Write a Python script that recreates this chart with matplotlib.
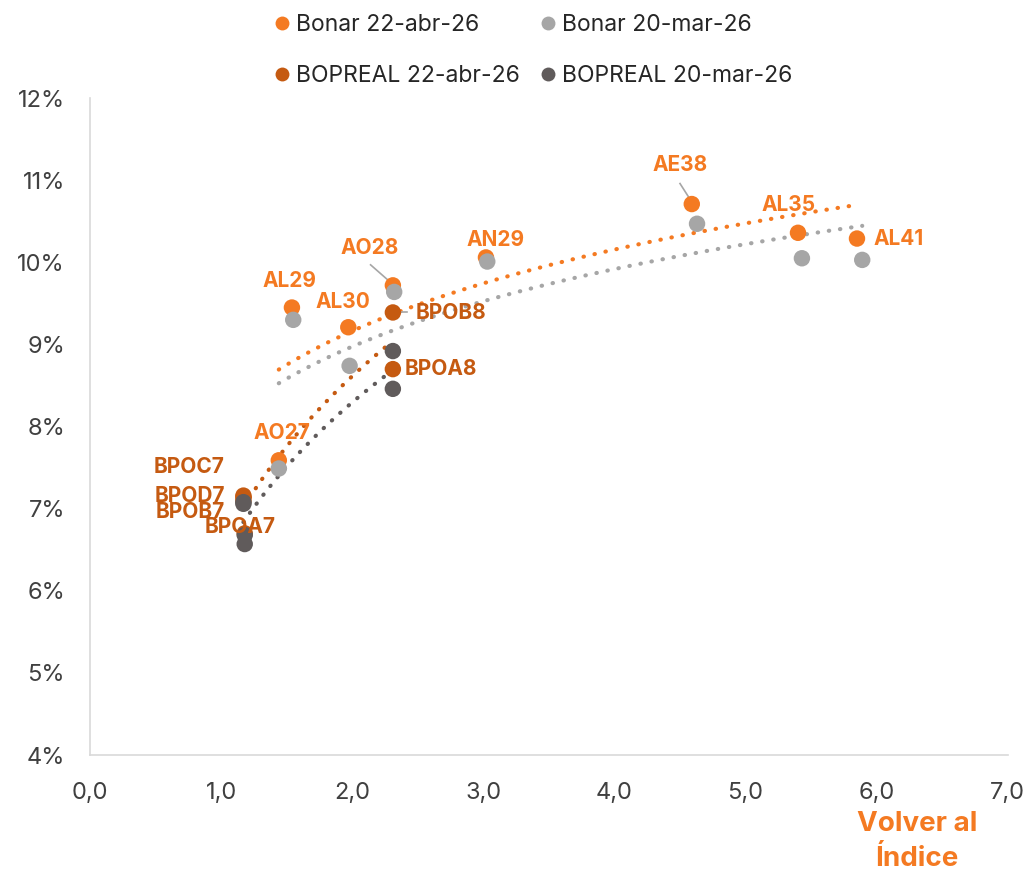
import numpy as np
import matplotlib.pyplot as plt
from matplotlib.lines import Line2D

plt.rcParams["font.family"] = ["Inter", "DejaVu Sans"]

# ── Data: duration ("Volver al Índice" axis) vs yield (%) ──────────────────
bonar_names = ["AL29", "AL30", "AO28", "AN29", "AE38", "AL35", "AL41", "AO27"]
bonar_x_abr = [1.54, 1.97, 2.31, 3.02, 4.59, 5.40, 5.85, 1.44]
bonar_y_abr = [9.45, 9.21, 9.72, 10.06, 10.71, 10.36, 10.29, 7.59]
bonar_x_mar = [1.55, 1.98, 2.32, 3.03, 4.63, 5.43, 5.89, 1.44]
bonar_y_mar = [9.30, 8.74, 9.64, 10.01, 10.47, 10.05, 10.03, 7.49]

bop_names = ["BPOC7", "BPOD7", "BPOB7", "BPOA7", "BPOB8", "BPOA8"]
bop_x_abr = [1.17, 1.17, 1.17, 1.18, 2.31, 2.31]
bop_y_abr = [7.16, 7.14, 7.10, 6.70, 9.39, 8.70]
bop_x_mar = [1.17, 1.17, 1.18, 1.18, 2.31, 2.31]
bop_y_mar = [7.08, 7.06, 6.68, 6.57, 8.92, 8.46]

ORANGE = "#F47A22"
GREY = "#A6A6A6"
DARK_ORANGE = "#C55A11"
DARK_GREY = "#605B5B"

fig = plt.figure(figsize=(10.3, 8.76), dpi=100)
ax = fig.add_axes([0.0874, 0.138, 0.891, 0.750])

series = [
    (bonar_x_abr, bonar_y_abr, ORANGE, "Bonar 22-abr-26"),
    (bonar_x_mar, bonar_y_mar, GREY, "Bonar 20-mar-26"),
    (bop_x_abr, bop_y_abr, DARK_ORANGE, "BOPREAL 22-abr-26"),
    (bop_x_mar, bop_y_mar, DARK_GREY, "BOPREAL 20-mar-26"),
]

# logarithmic trendlines, dotted
for xs, ys, col, _ in series:
    xs = np.array(xs); ys = np.array(ys)
    b, a = np.polyfit(np.log(xs), ys, 1)
    xx = np.linspace(xs.min(), xs.max(), 200)
    ax.plot(xx, a + b * np.log(xx), color=col, linestyle=(0, (0.1, 2.6)),
            linewidth=3, dash_capstyle="round", zorder=2)

for xs, ys, col, lab in series:
    ax.scatter(xs, ys, s=140, color=col, edgecolors="none", zorder=3, label=lab)

# data labels (offsets in pixels, converted to points)
PX = 0.72
lbl = dict(fontsize=15, fontweight="bold", ha="center", va="center", zorder=4)
bonar_off = {
    "AL29": (-2, 27), "AL30": (-5, 25), "AO28": (-23, 37), "AN29": (10, 17),
    "AE38": (-12, 39), "AL35": (-9, 28), "AL41": (42, 0), "AO27": (3, 27),
}
for n, x, y in zip(bonar_names, bonar_x_abr, bonar_y_abr):
    dx, dy = bonar_off[n]
    ax.annotate(n, (x, y), xytext=(dx * PX, dy * PX), textcoords="offset points",
                color=ORANGE, **lbl)

bop_off = {
    "BPOC7": (-54, 29), "BPOD7": (-54, 1), "BPOB7": (-53, -11), "BPOA7": (-5, 6),
    "BPOB8": (58, -1), "BPOA8": (48, 0),
}
for n, x, y in zip(bop_names, bop_x_abr, bop_y_abr):
    dx, dy = bop_off[n]
    ax.annotate(n, (x, y), xytext=(dx * PX, dy * PX), textcoords="offset points",
                color=DARK_ORANGE, **lbl)

# leader lines
lead = dict(color="#A6A6A6", linewidth=1.2, zorder=2.5)
ax.plot([2.14, 2.29], [9.97, 9.76], **lead)
ax.plot([4.50, 4.58], [10.96, 10.76], **lead)
ax.plot([2.34, 2.42], [9.39, 9.39], **lead)

ax.set_xlim(0, 7)
ax.set_ylim(4, 12)
ax.set_xticks(np.arange(0, 8, 1))
ax.set_xticklabels([f"{v:.1f}".replace(".", ",") for v in np.arange(0, 8, 1)])
ax.set_yticks(np.arange(4, 13, 1))
ax.set_yticklabels([f"{v}%" for v in range(4, 13)])
ax.tick_params(length=0, labelsize=17, labelcolor="#404040")
ax.tick_params(axis="x", pad=19)
ax.tick_params(axis="y", pad=18)
for s in ["top", "right"]:
    ax.spines[s].set_visible(False)
for s in ["left", "bottom"]:
    ax.spines[s].set_color("#D9D9D9")
    ax.spines[s].set_linewidth(1.2)

fig.text(0.890, 0.039, "Volver al\nÍndice", color=ORANGE, fontsize=20,
         fontweight="bold", ha="center", va="center", linespacing=1.45)

# legend: Bonar on the first row, BOPREAL on the second
order = [0, 2, 1, 3]
handles = [Line2D([], [], marker="o", linestyle="none", markersize=10,
                  markerfacecolor=series[i][2], markeredgecolor="none") for i in order]
fig.legend(handles, [series[i][3] for i in order], ncol=2, loc="upper left",
           bbox_to_anchor=(0.265, 0.984), frameon=False, fontsize=16.5,
           borderpad=0, borderaxespad=0,
           handletextpad=0.2, columnspacing=0.85, labelspacing=1.25,
           labelcolor="#262626", handlelength=0.8)

fig.savefig("out.png", dpi=100, facecolor="white")
